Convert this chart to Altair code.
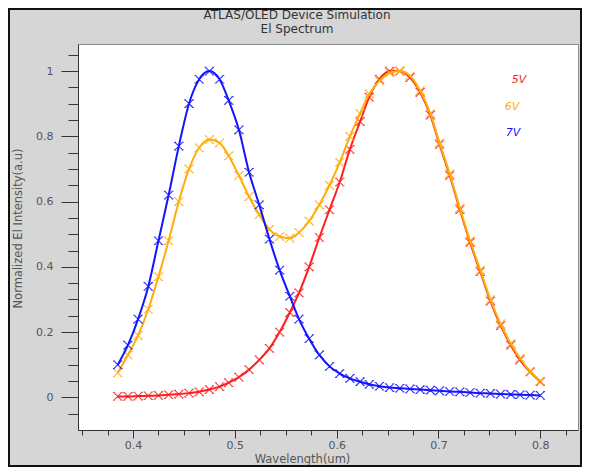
import altair as alt
import pandas as pd

# ---- data ----
wavelength = [0.385, 0.395, 0.405, 0.415, 0.425, 0.435, 0.445, 0.455, 0.465, 0.475,
              0.485, 0.494, 0.504, 0.514, 0.524, 0.534, 0.544, 0.554, 0.563, 0.573,
              0.583, 0.593, 0.603, 0.613, 0.623, 0.632, 0.642, 0.652, 0.662, 0.672,
              0.682, 0.692, 0.701, 0.711, 0.721, 0.731, 0.741, 0.751, 0.761, 0.771,
              0.780, 0.790, 0.800]
v5 = [0.003, 0.003, 0.004, 0.005, 0.006, 0.008, 0.010, 0.013, 0.017, 0.024,
      0.033, 0.045, 0.062, 0.085, 0.115, 0.150, 0.200, 0.260, 0.320, 0.400,
      0.490, 0.575, 0.660, 0.760, 0.845, 0.920, 0.975, 1.000, 1.000, 0.980,
      0.935, 0.865, 0.775, 0.680, 0.575, 0.475, 0.385, 0.295, 0.220, 0.160,
      0.115, 0.078, 0.048]
v6 = [0.075, 0.130, 0.190, 0.270, 0.370, 0.480, 0.600, 0.700, 0.765, 0.790,
      0.780, 0.740, 0.680, 0.615, 0.560, 0.515, 0.493, 0.488, 0.505, 0.540,
      0.590, 0.650, 0.720, 0.800, 0.870, 0.930, 0.970, 0.995, 1.000, 0.985,
      0.940, 0.870, 0.780, 0.685, 0.580, 0.480, 0.390, 0.300, 0.225, 0.165,
      0.120, 0.080, 0.050]
v7 = [0.100, 0.160, 0.240, 0.340, 0.480, 0.620, 0.770, 0.900, 0.975, 1.000,
      0.975, 0.910, 0.820, 0.690, 0.590, 0.485, 0.390, 0.310, 0.240, 0.180,
      0.130, 0.095, 0.073, 0.058, 0.048, 0.040, 0.034, 0.030, 0.028, 0.026,
      0.024, 0.022, 0.020, 0.018, 0.017, 0.015, 0.013, 0.012, 0.010, 0.009,
      0.008, 0.007, 0.006]

series_names = ["5V", "6V", "7V"]
series_values = [v5, v6, v7]
series_colors = ["#ff1e1e", "#ffad0a", "#1414ff"]

x_ticks = [0.35, 0.375, 0.4, 0.425, 0.45, 0.475, 0.5, 0.525, 0.55, 0.575, 0.6,
           0.625, 0.65, 0.675, 0.7, 0.725, 0.75, 0.775, 0.8, 0.825]
y_ticks = [-0.05, 0.0, 0.05, 0.1, 0.15, 0.2, 0.25, 0.3, 0.35, 0.4, 0.45, 0.5,
           0.55, 0.6, 0.65, 0.7, 0.75, 0.8, 0.85, 0.9, 0.95, 1.0, 1.05]

title_lines = ["ATLAS/OLED Device Simulation", "El Spectrum"]

W, H = 500, 386
FONT = "DejaVu Sans"

x_major = "abs(datum.value*10 - round(datum.value*10)) < 0.001"
y_major = "abs(datum.value*5 - round(datum.value*5)) < 0.001"

x_scale = alt.Scale(domain=[0.346, 0.837], nice=False, zero=False)
y_scale = alt.Scale(domain=[-0.1, 1.083], nice=False, zero=False)

x_axis = alt.Axis(
    values=x_ticks, grid=False,
    tickSize={"condition": {"test": x_major, "value": 8}, "value": 5},
    labelExpr=f"{x_major} ? format(datum.value, '~g') : ''",
    domainColor="#333", tickColor="#333", labelColor="#555", labelFont=FONT,
    labelFontSize=11, labelPadding=1,
    title="Wavelength(um)", titleFont=FONT, titleFontSize=11.5, titleFontWeight="normal",
    titleColor="#555", titleX=224, titleY=29, titleAlign="center", titleBaseline="middle",
)
y_axis = alt.Axis(
    values=y_ticks, grid=False,
    tickSize={"condition": {"test": y_major, "value": 17}, "value": 10},
    labelExpr=f"{y_major} ? format(datum.value, '~g') : ''",
    domainColor="#333", tickColor="#333", labelColor="#555", labelFont=FONT,
    labelFontSize=11, labelPadding=8,
    title="Normalized El Intensity(a.u)", titleFont=FONT, titleFontSize=11.5,
    titleFontWeight="normal", titleColor="#555", titleX=-60, titleY=184,
    titleAngle=-90, titleAlign="center", titleBaseline="middle",
)

marker = ("M-0.8,-0.8L0.8,0.8M-0.8,0.8L0.8,-0.8"
          "M-1,-0.8L-0.6,-0.8M0.6,-0.8L1,-0.8M-1,0.8L-0.6,0.8M0.6,0.8L1,0.8")

layers = []
one = pd.DataFrame({"a": [0]})
border = alt.Chart(one).mark_rect(fill=None, stroke="#111", strokeWidth=2).encode(
    x=alt.value(-69), x2=alt.value(W + 3), y=alt.value(-35), y2=alt.value(H + 36)
)
layers.append(border)

for name, vals, col in zip(series_names, series_values, series_colors):
    df = pd.DataFrame({"wavelength": wavelength, "intensity": vals, "series": name})
    enc = dict(
        x=alt.X("wavelength:Q", scale=x_scale, axis=x_axis),
        y=alt.Y("intensity:Q", scale=y_scale, axis=y_axis),
    )
    line = alt.Chart(df).mark_line(strokeWidth=2, interpolate="monotone", color=col).encode(**enc)
    pts = alt.Chart(df).mark_point(shape=marker, filled=False, size=90, strokeWidth=1.1,
                                   color=col, opacity=0.85).encode(**enc)
    layers += [line, pts]

legend_pos = [(441, 36), (434, 63), (435, 89)]
for name, col, (lx, ly) in zip(series_names, series_colors, legend_pos):
    layers.append(
        alt.Chart(one).mark_text(font=FONT, fontSize=11, fontStyle="italic", align="center",
                                 baseline="middle", color=col).encode(
            x=alt.value(lx), y=alt.value(ly), text=alt.value(name))
    )

for txt, ty in zip(title_lines, [-29, -15]):
    layers.append(
        alt.Chart(one).mark_text(font=FONT, fontSize=12, align="center",
                                 baseline="middle", color="#333").encode(
            x=alt.value(219), y=alt.value(ty), text=alt.value(txt))
    )

chart = alt.layer(*layers).properties(
    width=W, height=H,
    padding={"left": 70, "top": 36, "right": 4, "bottom": 37},
    autosize=alt.AutoSizeParams(type="none"),
).configure(background="#d6d6d6").configure_view(fill="white", stroke="#8a8a8a")

chart.save("out.html", embed_options={"renderer": "svg", "actions": False})
